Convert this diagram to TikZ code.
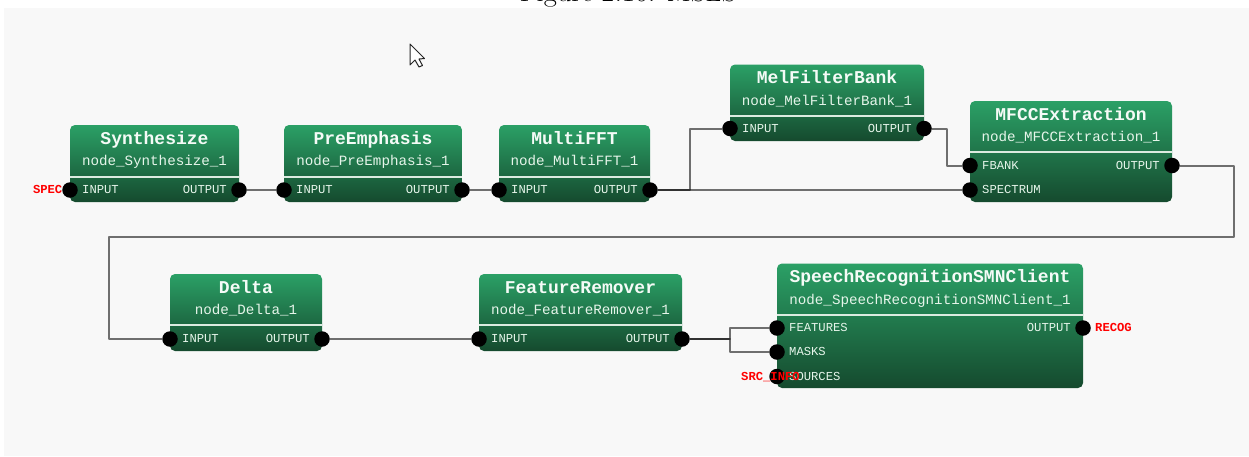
\documentclass[tikz,border=0pt]{standalone}
\usepackage{fontspec}
\setmonofont{Liberation Mono}
\usetikzlibrary{calc}
\definecolor{bgc}{HTML}{F8F8F8}
\definecolor{gtop}{HTML}{2BA066}
\definecolor{gbot}{HTML}{154A2E}
\definecolor{txtc}{HTML}{E6F5EA}
\definecolor{divc}{HTML}{DCEBE0}
\tikzset{
  gbox/.style={rounded corners=5pt,top color=gtop,bottom color=gbot,draw=none,inner sep=0pt,outer sep=0pt},
  title/.style={inner sep=0pt,anchor=base,text=txtc!40!white,font=\ttfamily\bfseries\fontsize{18}{20}\selectfont},
  subtitle/.style={inner sep=0pt,anchor=base,text=txtc,font=\ttfamily\fontsize{14.2}{16}\selectfont},
  plabel/.style={inner sep=0pt,text=txtc,font=\ttfamily\fontsize{12.2}{14}\selectfont},
  redlabel/.style={inner sep=0pt,text=red,font=\ttfamily\bfseries\fontsize{12.2}{14}\selectfont},
  portdot/.style={circle,fill=black,draw=none,minimum size=15.5pt,inner sep=0pt,outer sep=0pt},
  wire/.style={draw=black,draw opacity=.55,line width=2pt,line join=round},
  divline/.style={draw=divc,line width=1.2pt},
}
% name, x0, y0, x1, y1, divider y, title, subtitle
\newcommand{\gblock}[8]{%
  \pgfmathsetmacro{\bw}{#4-#2}\pgfmathsetmacro{\bh}{#5-#3}%
  \pgfmathsetmacro{\bx}{(#2+#4)/2}\pgfmathsetmacro{\by}{(#3+#5)/2}%
  \node[gbox,minimum width=\bw pt,minimum height=\bh pt] (#1) at (\bx,\by) {};
  \draw[divline] (#2,#6) -- (#4,#6);
  \node[title] (#1t) at (\bx,#3+19) {#7};
  \node[subtitle] (#1s) at (\bx,#3+40.5) {#8};
}
% name, x, y, side text
\newcommand{\pin}[4]{%
  \node[plabel,anchor=base west] (#1l) at (#2+12,#3+3.5) {#4};
  \node[portdot] (#1) at (#2,#3) {};
}
\newcommand{\pout}[4]{%
  \node[plabel,anchor=base east] (#1l) at (#2-12,#3+3.5) {#4};
  \node[portdot] (#1) at (#2,#3) {};
}
\begin{document}
\begin{tikzpicture}[x=1pt,y=-1pt]
\useasboundingbox (0,0) rectangle (1249,456);
\fill[white] (0,0) rectangle (1249,456);
\fill[bgc] (4,8) rectangle (1249,456);
\node[inner sep=0pt,anchor=base,font=\fontsize{28.5}{30}\selectfont] (cap) at (628,1.5) {Figure 2.16: MSLS};

% cursor
\draw[fill=white,draw=black!85,line width=1pt,line join=round]
  (410,44) -- (410,65) -- (415,60) -- (419,67) -- (422.5,65.5) -- (419,59) -- (424.5,58.5) -- cycle;

\gblock{syn}{70}{125}{239}{202}{177}{Synthesize}{node\_Synthesize\_1}
\gblock{pre}{284}{125}{462}{202}{177}{PreEmphasis}{node\_PreEmphasis\_1}
\gblock{fft}{499}{125}{650}{202}{177}{MultiFFT}{node\_MultiFFT\_1}
\gblock{mel}{730}{64.5}{924}{141}{116}{MelFilterBank}{node\_MelFilterBank\_1}
\gblock{mfc}{970}{101}{1172}{202}{152}{MFCCExtraction}{node\_MFCCExtraction\_1}
\gblock{del}{170}{274}{322}{351}{325}{Delta}{node\_Delta\_1}
\gblock{rem}{479}{274}{682}{351}{325}{FeatureRemover}{node\_FeatureRemover\_1}
\gblock{smn}{777}{263.5}{1083}{388}{315}{SpeechRecognitionSMNClient}{node\_SpeechRecognitionSMNClient\_1}

\pin{synI}{70}{190}{INPUT}\pout{synO}{239}{190}{OUTPUT}
\pin{preI}{284}{190}{INPUT}\pout{preO}{462}{190}{OUTPUT}
\pin{fftI}{499}{190}{INPUT}\pout{fftO}{650}{190}{OUTPUT}
\pin{melI}{730}{128.5}{INPUT}\pout{melO}{924}{128.5}{OUTPUT}
\pin{mfcF}{970}{165.5}{FBANK}\pin{mfcS}{970}{190}{SPECTRUM}\pout{mfcO}{1172}{165.5}{OUTPUT}
\pin{delI}{170}{339}{INPUT}\pout{delO}{322}{339}{OUTPUT}
\pin{remI}{479}{339}{INPUT}\pout{remO}{682}{339}{OUTPUT}
\pin{smnF}{777}{328}{FEATURES}\pin{smnM}{777}{352}{MASKS}\pin{smnS}{777}{376.5}{SOURCES}\pout{smnO}{1083}{328}{OUTPUT}

\node[redlabel,anchor=base east] (lspec) at (62.5,193.5) {SPEC};
\node[redlabel,anchor=base west] (lrecog) at (1095,331.5) {RECOG};
\node[redlabel,anchor=base west] (lsrc) at (741,380) {SRC\_INFO};

\draw[wire] (synO) -- (preI);
\draw[wire] (preO) -- (fftI);
\draw[wire] (fftO) -- (mfcS);
\draw[wire] (fftO) -- (690,190) -- (690,128.5) -- (melI);
\draw[wire] (melO) -- (947,128.5) -- (947,165.5) -- (mfcF);
\draw[wire] (mfcO) -- (1234,165.5) -- (1234,237) -- (109,237) -- (109,339) -- (delI);
\draw[wire] (delO) -- (remI);
\draw[wire] (remO) -- (730,339) -- (730,328) -- (smnF);
\draw[wire] (remO) -- (730,339) -- (730,352) -- (smnM);
\end{tikzpicture}
\end{document}
